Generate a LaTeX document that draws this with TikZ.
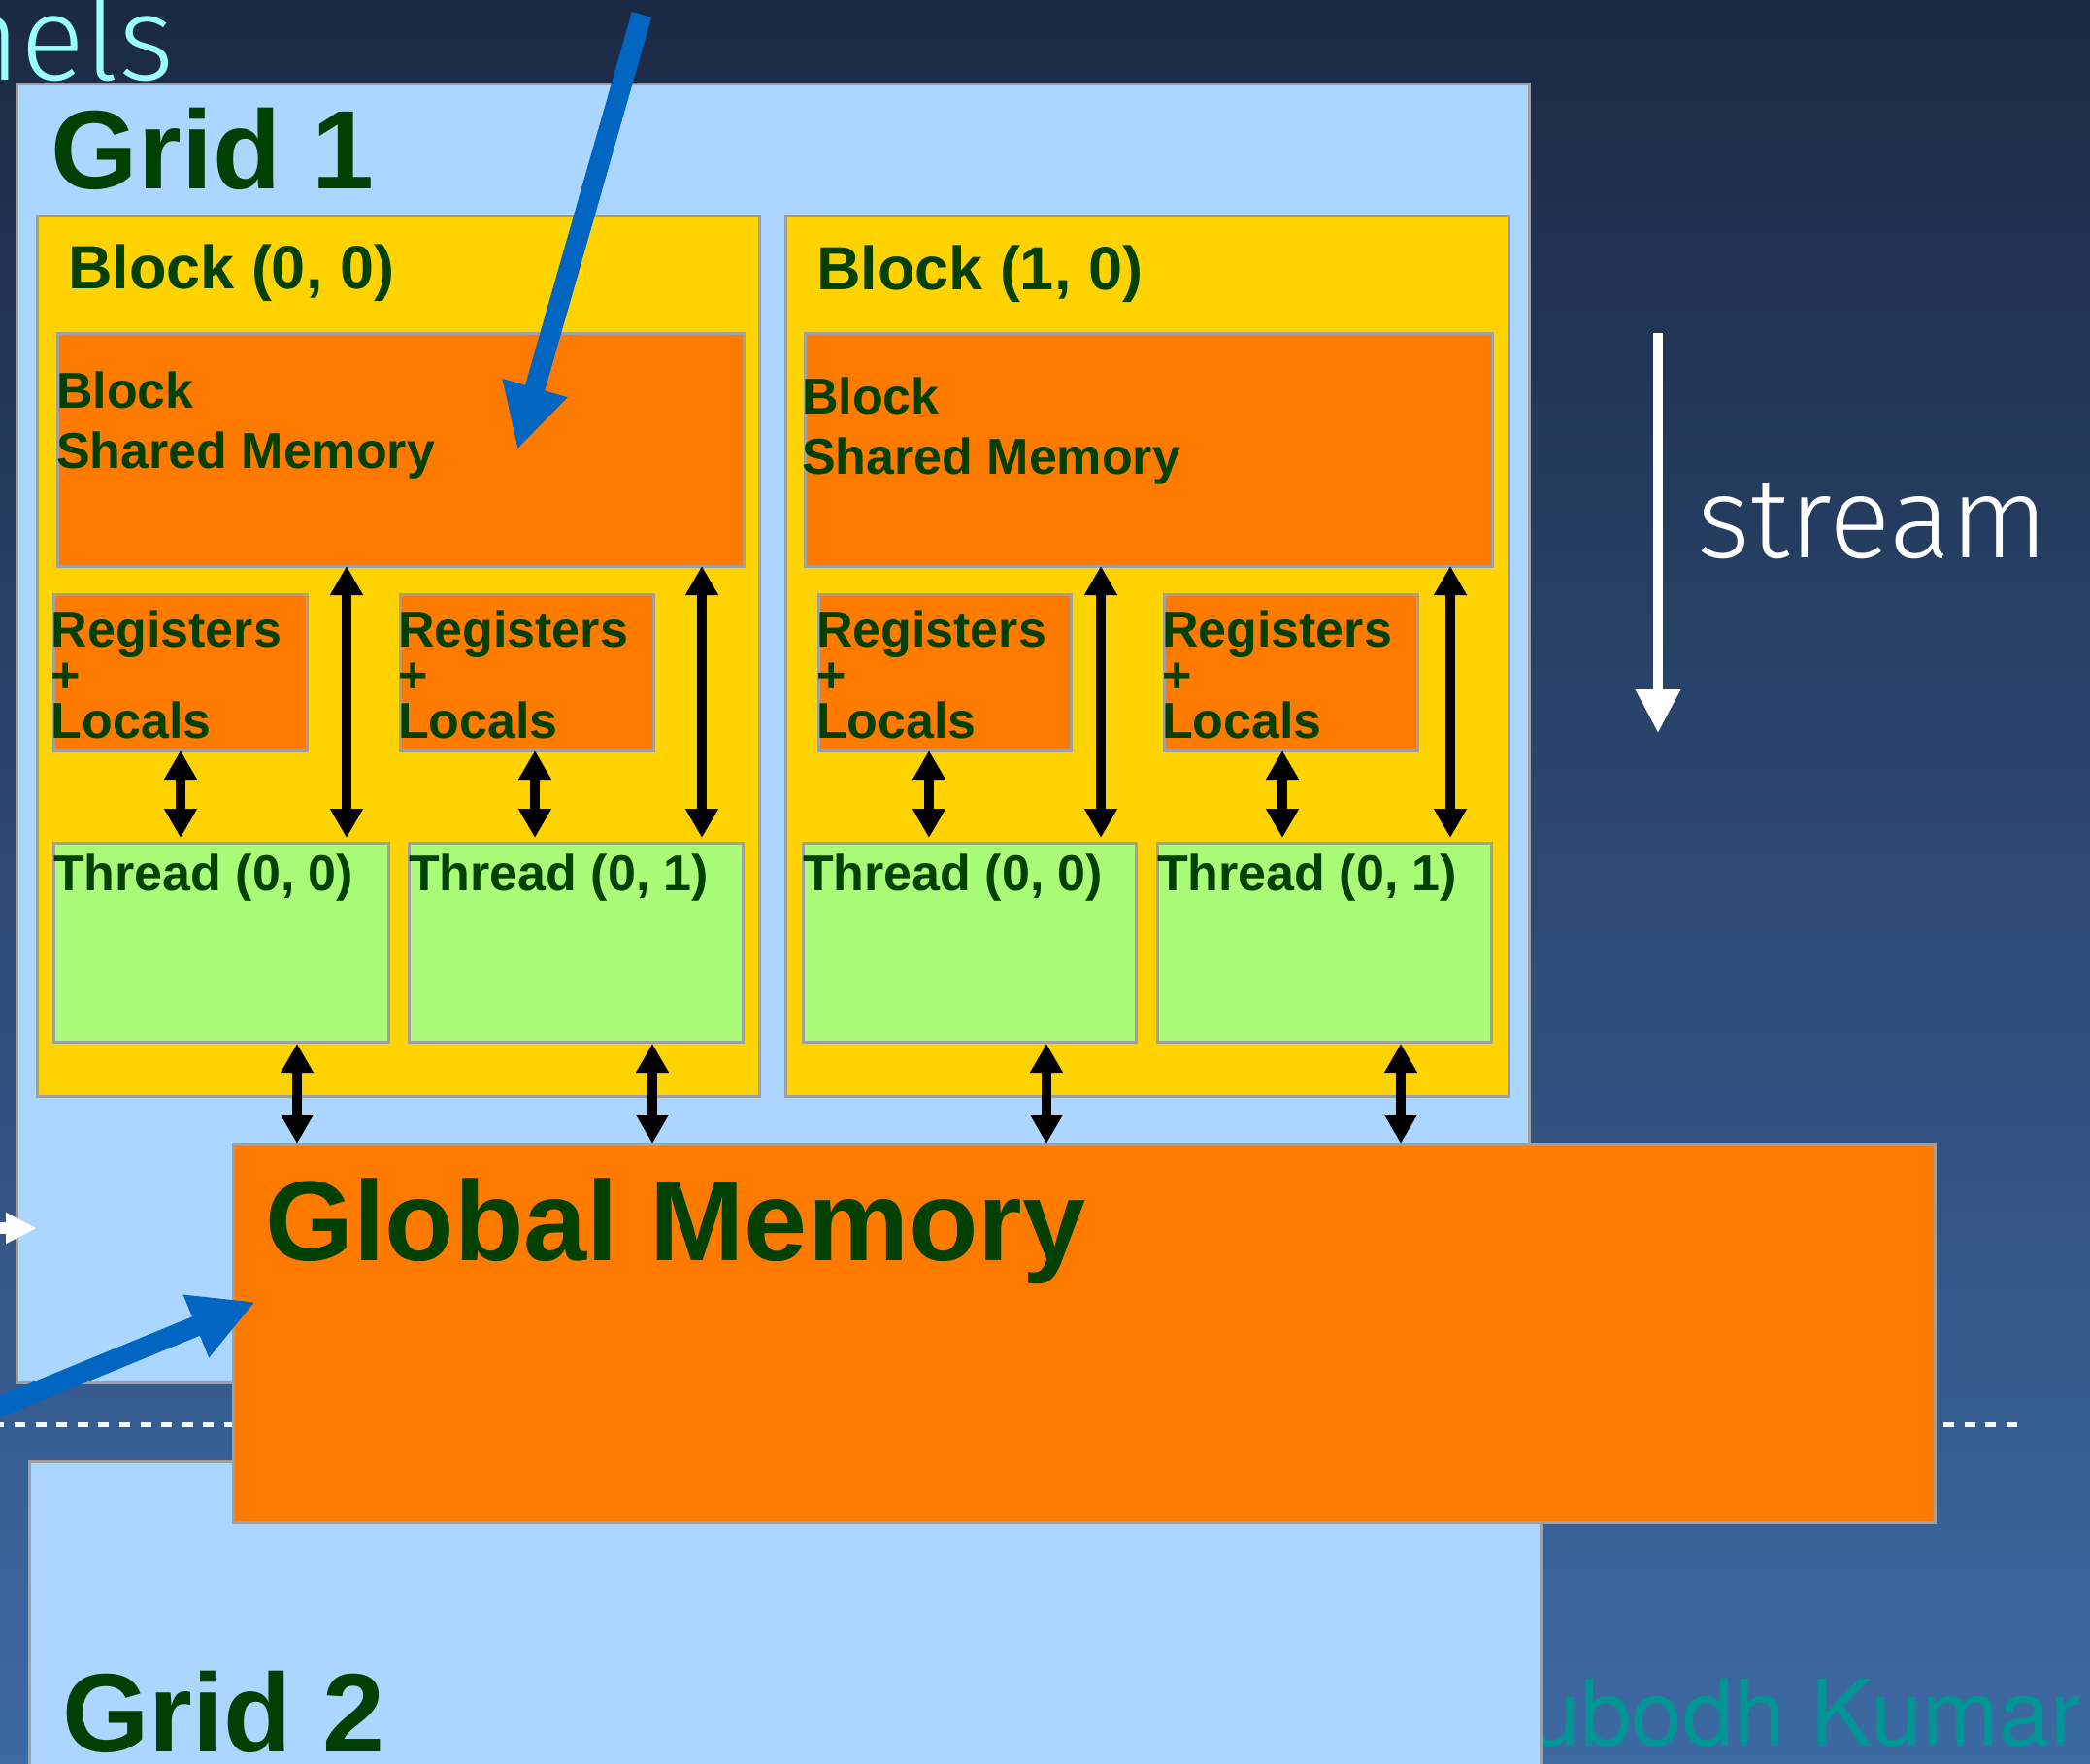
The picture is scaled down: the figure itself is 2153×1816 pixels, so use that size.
\documentclass[tikz,border=0pt]{standalone}
\usepackage{fontspec}
\setmainfont{Liberation Sans}
\newfontfamily\herosfont{TeX Gyre Heros}
\newfontfamily\thinfont{Fira Sans Light}
\usetikzlibrary{arrows.meta,fit}

\definecolor{bgtop}{RGB}{27,41,68}
\definecolor{bgbot}{RGB}{61,106,163}
\definecolor{gridblue}{RGB}{170,214,255}
\definecolor{blockyellow}{RGB}{255,211,0}
\definecolor{memorange}{RGB}{255,123,0}
\definecolor{threadgreen}{RGB}{170,251,120}
\definecolor{labelgreen}{RGB}{0,64,0}
\definecolor{edgegray}{RGB}{160,160,160}
\definecolor{arrowblue}{RGB}{0,102,194}
\definecolor{cyanlbl}{RGB}{153,255,255}
\definecolor{tealname}{RGB}{0,150,150}

\tikzset{
  box/.style={draw=edgegray, line width=1.5pt, inner sep=0pt, outer sep=0pt},
  gridbox/.style={box, fill=gridblue},
  blockbox/.style={box, fill=blockyellow},
  membox/.style={box, fill=memorange},
  threadbox/.style={box, fill=threadgreen},
  lbl/.style={text=labelgreen, inner sep=0pt, outer sep=0pt, anchor=base west, align=left},
  hugelbl/.style={lbl, font=\fontsize{57.5pt}{70pt}\selectfont\bfseries},
  blocklbl/.style={lbl, font=\fontsize{31.5pt}{38pt}\selectfont\bfseries},
  memlbl/.style={lbl, font=\fontsize{26pt}{31pt}\selectfont\bfseries},
  reglbl/.style={lbl, font=\fontsize{26pt}{23.5pt}\selectfont\bfseries},
  link/.style={line width=5pt,
    {Triangle[width=16pt,length=15pt]}-{Triangle[width=16pt,length=15pt]}},
  feed/.style={arrowblue, line width=10.5pt,
    -{Triangle[width=32.5pt,length=33pt]}},
  pointer/.style={white, line width=5pt,
    -{Triangle[width=22pt,length=22.5pt]}},
  nudge/.style={white, line width=6pt,
    -{Triangle[width=15pt,length=16pt]}},
  separator/.style={white, line width=2.5pt, dash pattern=on 5.5pt off 5.3pt},
}

\begin{document}
\begin{tikzpicture}[x=0.5pt, y=-0.5pt]
  % canvas and background
  \clip (0,0) rectangle (2153,1816);
  \shade[top color=bgtop, bottom color=bgbot] (0,0) rectangle (2153,1816);

  % author credit, partly hidden behind the second grid
  \node[inner sep=0pt, anchor=base east, text=tealname,
        font=\fontsize{47.5pt}{57pt}\selectfont\herosfont]
    (credit) at (2144,1798) {ubodh Kumar};

  % slide heading fragment
  \node[inner sep=0pt, anchor=base east, text=cyanlbl,
        font=\fontsize{61.5pt}{74pt}\selectfont\thinfont]
    (heading) at (180,82) {nels};

  % grids
  \node[gridbox, fit={(17,86)(1575,1424)}] (grid1) {};
  \node[gridbox, fit={(30,1505)(1587,1840)}] (grid2) {};

  % boundary between the two launches
  \draw[separator] (-6.7,1467) -- (2078,1467);

  % blocks
  \node[blockbox, fit={(38,222)(782,1129)}] (blk0) {};
  \node[blockbox, fit={(809,222)(1554,1129)}] (blk1) {};

  % shared memories
  \node[membox, fit={(59,343)(766,583)}] (sm0) {};
  \node[membox, fit={(829,343)(1537,583)}] (sm1) {};

  % registers + locals
  \node[membox, fit={(55,612)(316,773)}] (rg00) {};
  \node[membox, fit={(412,612)(673,773)}] (rg01) {};
  \node[membox, fit={(843,612)(1103,773)}] (rg10) {};
  \node[membox, fit={(1199,612)(1460,773)}] (rg11) {};

  % threads
  \node[threadbox, fit={(55,868)(400,1073)}] (th00) {};
  \node[threadbox, fit={(421,868)(765,1073)}] (th01) {};
  \node[threadbox, fit={(827,868)(1170,1073)}] (th10) {};
  \node[threadbox, fit={(1192,868)(1536,1073)}] (th11) {};

  % labels (multi-line labels sit on the baseline of their last line)
  \node[hugelbl] (grid1lbl) at (53,194) {Grid 1};
  \node[hugelbl] (grid2lbl) at (64,1804) {Grid 2};
  \node[blocklbl] (blk0lbl) at (70,297) {Block (0, 0)};
  \node[blocklbl] (blk1lbl) at (841,298) {Block (1, 0)};
  \node[memlbl] (sm0lbl) at (58,482) {Block\\Shared Memory};
  \node[memlbl] (sm1lbl) at (826,488) {Block\\Shared Memory};
  \node[reglbl] (rg00lbl) at (53,760) {Registers\\+\\Locals};
  \node[reglbl] (rg01lbl) at (410,760) {Registers\\+\\Locals};
  \node[reglbl] (rg10lbl) at (841,760) {Registers\\+\\Locals};
  \node[reglbl] (rg11lbl) at (1197,760) {Registers\\+\\Locals};
  \node[memlbl] (th00lbl) at (55,917) {Thread (0, 0)};
  \node[memlbl] (th01lbl) at (421,917) {Thread (0, 1)};
  \node[memlbl] (th10lbl) at (827,917) {Thread (0, 0)};
  \node[memlbl] (th11lbl) at (1192,917) {Thread (0, 1)};

  % columns of the memory links
  \coordinate (lk00) at (357,0);  \coordinate (lk01) at (723,0);
  \coordinate (lk10) at (1134,0); \coordinate (lk11) at (1494,0);
  \coordinate (rk00) at (186,0);  \coordinate (rk01) at (551,0);
  \coordinate (rk10) at (957,0);  \coordinate (rk11) at (1321,0);
  \coordinate (gk00) at (306,0);  \coordinate (gk01) at (672,0);
  \coordinate (gk10) at (1078,0); \coordinate (gk11) at (1443,0);

  % shared memory <-> thread
  \draw[link, shorten >=2.5pt] (lk00 |- sm0.south) -- (lk00 |- th00.north);
  \draw[link, shorten >=2.5pt] (lk01 |- sm0.south) -- (lk01 |- th01.north);
  \draw[link, shorten >=2.5pt] (lk10 |- sm1.south) -- (lk10 |- th10.north);
  \draw[link, shorten >=2.5pt] (lk11 |- sm1.south) -- (lk11 |- th11.north);

  % registers <-> thread
  \draw[link, shorten >=2.5pt] (rk00 |- rg00.south) -- (rk00 |- th00.north);
  \draw[link, shorten >=2.5pt] (rk01 |- rg01.south) -- (rk01 |- th01.north);
  \draw[link, shorten >=2.5pt] (rk10 |- rg10.south) -- (rk10 |- th10.north);
  \draw[link, shorten >=2.5pt] (rk11 |- rg11.south) -- (rk11 |- th11.north);

  % global memory
  \node[membox, fit={(240,1178)(1993,1568)}] (gm) {};
  \node[hugelbl, font=\fontsize{58.5pt}{70pt}\selectfont\bfseries]
    (gmlbl) at (273,1298) {Global Memory};

  % thread <-> global memory
  \draw[link, shorten <=1pt] (gk00 |- th00.south) -- (gk00 |- gm.north);
  \draw[link, shorten <=1pt] (gk01 |- th01.south) -- (gk01 |- gm.north);
  \draw[link, shorten <=1pt] (gk10 |- th10.south) -- (gk10 |- gm.north);
  \draw[link, shorten <=1pt] (gk11 |- th11.south) -- (gk11 |- gm.north);

  % stream direction
  \coordinate (streamtop) at (1708,343);
  \coordinate (streamend) at (1708,755);
  \draw[pointer] (streamtop) -- (streamend);
  \node[inner sep=0pt, anchor=base west, text=white,
        font=\fontsize{59pt}{72pt}\selectfont\thinfont]
    (streamlbl) at (1748,574) {stream};

  % callout arrows
  \coordinate (feedAstart) at (661,15);
  \coordinate (feedAend) at (533,463);
  \draw[feed] (feedAstart) -- (feedAend);
  \coordinate (feedBstart) at (-20,1457);
  \coordinate (feedBend) at (263,1341);
  \draw[feed] (feedBstart) -- (feedBend);
  \coordinate (nudgestart) at (-10,1265);
  \coordinate (nudgeend) at (38,1265);
  \draw[nudge] (nudgestart) -- (nudgeend);
\end{tikzpicture}
\end{document}
